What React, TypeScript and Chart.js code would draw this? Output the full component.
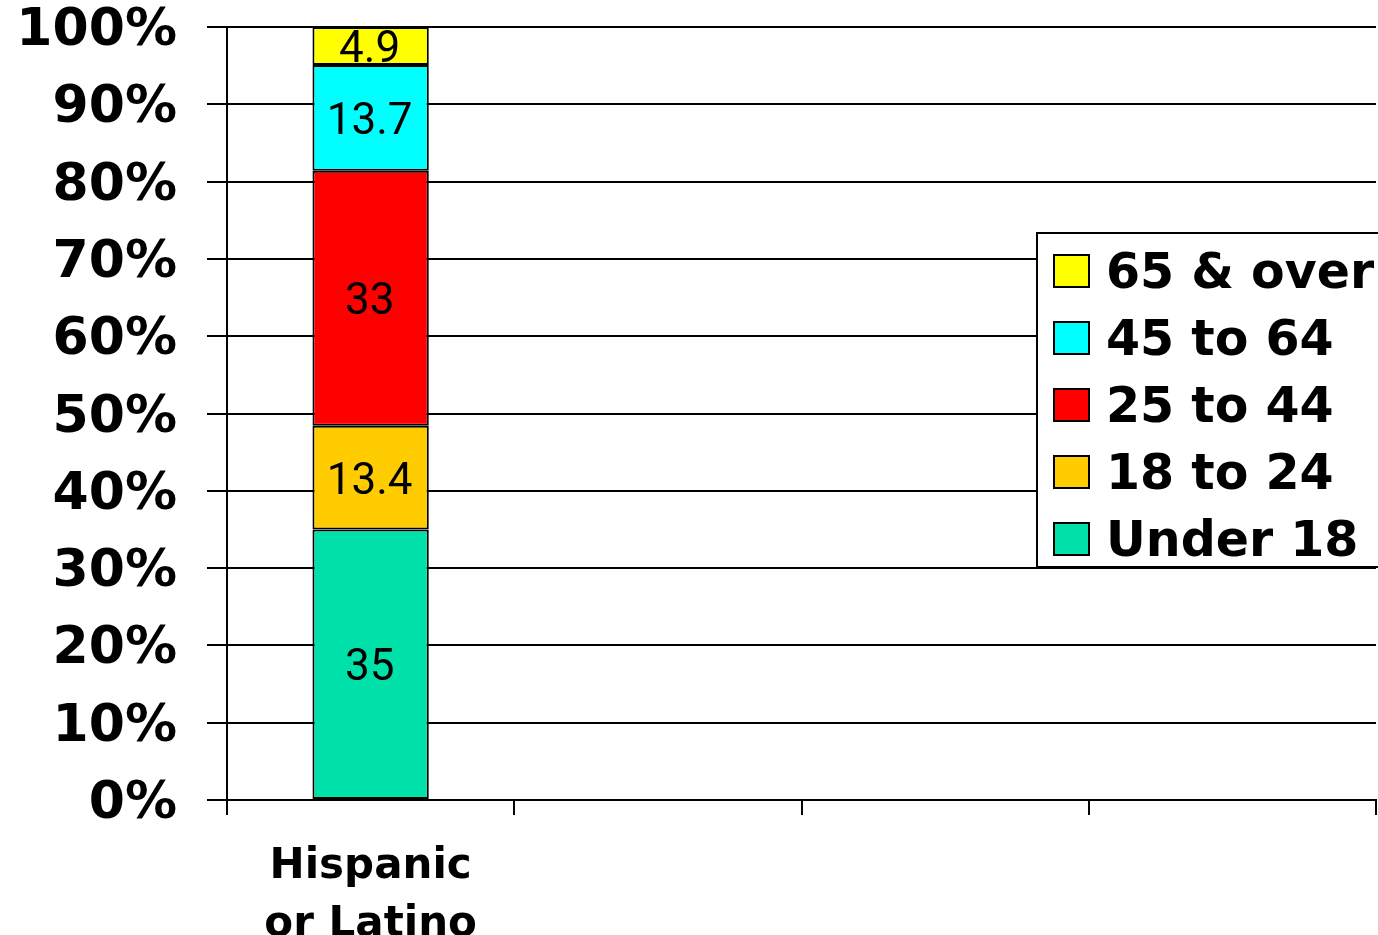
import React, { useEffect, useRef } from "react";
import { Chart, registerables } from "chart.js";

Chart.register(...registerables);

const categories: (string | string[])[] = [["Hispanic", "or Latino"], "", "", ""];
const seriesNames = ["Under 18", "18 to 24", "25 to 44", "45 to 64", "65 & over"];
const under18 = [35, null, null, null];
const age18to24 = [13.4, null, null, null];
const age25to44 = [33, null, null, null];
const age45to64 = [13.7, null, null, null];
const age65over = [4.9, null, null, null];
const seriesColors = ["#00E1A9", "#FFCC00", "#FF0000", "#00FFFF", "#FFFF00"];
const yTicks = [0, 10, 20, 30, 40, 50, 60, 70, 80, 90, 100];

const dataLabelPlugin = {
  id: "dataLabels",
  afterDatasetsDraw(chart: any) {
    const ctx = chart.ctx;
    ctx.save();
    ctx.font = "44px Roboto";
    ctx.fillStyle = "#000";
    ctx.textAlign = "center";
    ctx.textBaseline = "middle";
    chart.data.datasets.forEach((ds: any, di: number) => {
      const meta = chart.getDatasetMeta(di);
      meta.data.forEach((el: any, i: number) => {
        const v = ds.data[i];
        if (v === null || v === undefined) return;
        ctx.fillText(String(v), el.x - 1, (el.y + el.base) / 2 + 5);
      });
    });
    ctx.restore();
  },
};

const legendPlugin = {
  id: "customLegend",
  afterDraw(chart: any) {
    const ctx = chart.ctx;
    ctx.save();
    const bx = 1037, by = 233, bw = 360, bh = 334;
    ctx.fillStyle = "#fff";
    ctx.fillRect(bx, by, bw, bh);
    ctx.strokeStyle = "#000";
    ctx.lineWidth = 2;
    ctx.strokeRect(bx, by, bw, bh);
    ctx.font = "bold 49px 'DejaVu Sans'";
    ctx.textAlign = "left";
    ctx.textBaseline = "middle";
    const n = seriesNames.length;
    for (let k = 0; k < n; k++) {
      const idx = n - 1 - k;
      const cy = 271 + k * 67;
      ctx.fillStyle = seriesColors[idx];
      ctx.fillRect(1054, cy - 16, 35, 32);
      ctx.strokeStyle = "#000";
      ctx.lineWidth = 2;
      ctx.strokeRect(1054, cy - 16, 35, 32);
      ctx.fillStyle = "#000";
      ctx.fillText(seriesNames[idx], 1106, cy + 4);
    }
    ctx.restore();
  },
};

export default function App() {
  const ref = useRef<HTMLCanvasElement | null>(null);
  useEffect(() => {
    if (!ref.current) return;
    const values = [under18, age18to24, age25to44, age45to64, age65over];
    const chart = new Chart(ref.current, {
      type: "bar",
      data: {
        labels: categories as any,
        datasets: seriesNames.map((name, i) => ({
          label: name,
          data: values[i] as any,
          backgroundColor: seriesColors[i],
          borderColor: "#000",
          borderWidth: 2,
          borderSkipped: false,
          categoryPercentage: 1,
          barPercentage: 0.405,
        })),
      },
      options: {
        responsive: false,
        animation: false,
        layout: { padding: { top: 27, right: 2, left: 0, bottom: 0 } },
        plugins: { legend: { display: false }, tooltip: { enabled: false } },
        scales: {
          x: {
            stacked: true,
            grid: {
              offset: true,
              drawOnChartArea: false,
              tickLength: 15,
              color: "#000",
              lineWidth: 2,
            },
            border: { display: true, color: "#000", width: 2 },
            ticks: {
              color: "#000",
              padding: 24,
              maxRotation: 0,
              font: { family: "'DejaVu Sans'", weight: "bold", size: 42, lineHeight: 1.36 },
            },
            afterFit: (s: any) => {
              s.height = 135;
              s.paddingLeft = 0;
              s.paddingRight = 0;
            },
          },
          y: {
            stacked: true,
            min: 0,
            max: 100,
            afterBuildTicks: (s: any) => {
              s.ticks = yTicks.map((v) => ({ value: v }));
            },
            grid: { color: "#000", lineWidth: 2, tickLength: 20 },
            border: { display: true, color: "#000", width: 2 },
            ticks: {
              color: "#000",
              padding: 30,
              font: { family: "'DejaVu Sans'", weight: "bold", size: 52, lineHeight: "9px" as any },
              callback: (v: any) => ["", v + "%"],
            },
            afterFit: (s: any) => {
              s.width = 227;
              s.paddingTop = 0;
              s.paddingBottom = 0;
            },
          },
        },
      },
      plugins: [dataLabelPlugin, legendPlugin],
    });
    return () => chart.destroy();
  }, []);
  return (
    <div style={{ position: "absolute", left: 0, top: 0, width: 1378, height: 935, background: "#fff" }}>
      <canvas ref={ref} width={1378} height={935} style={{ display: "block" }} />
    </div>
  );
}
